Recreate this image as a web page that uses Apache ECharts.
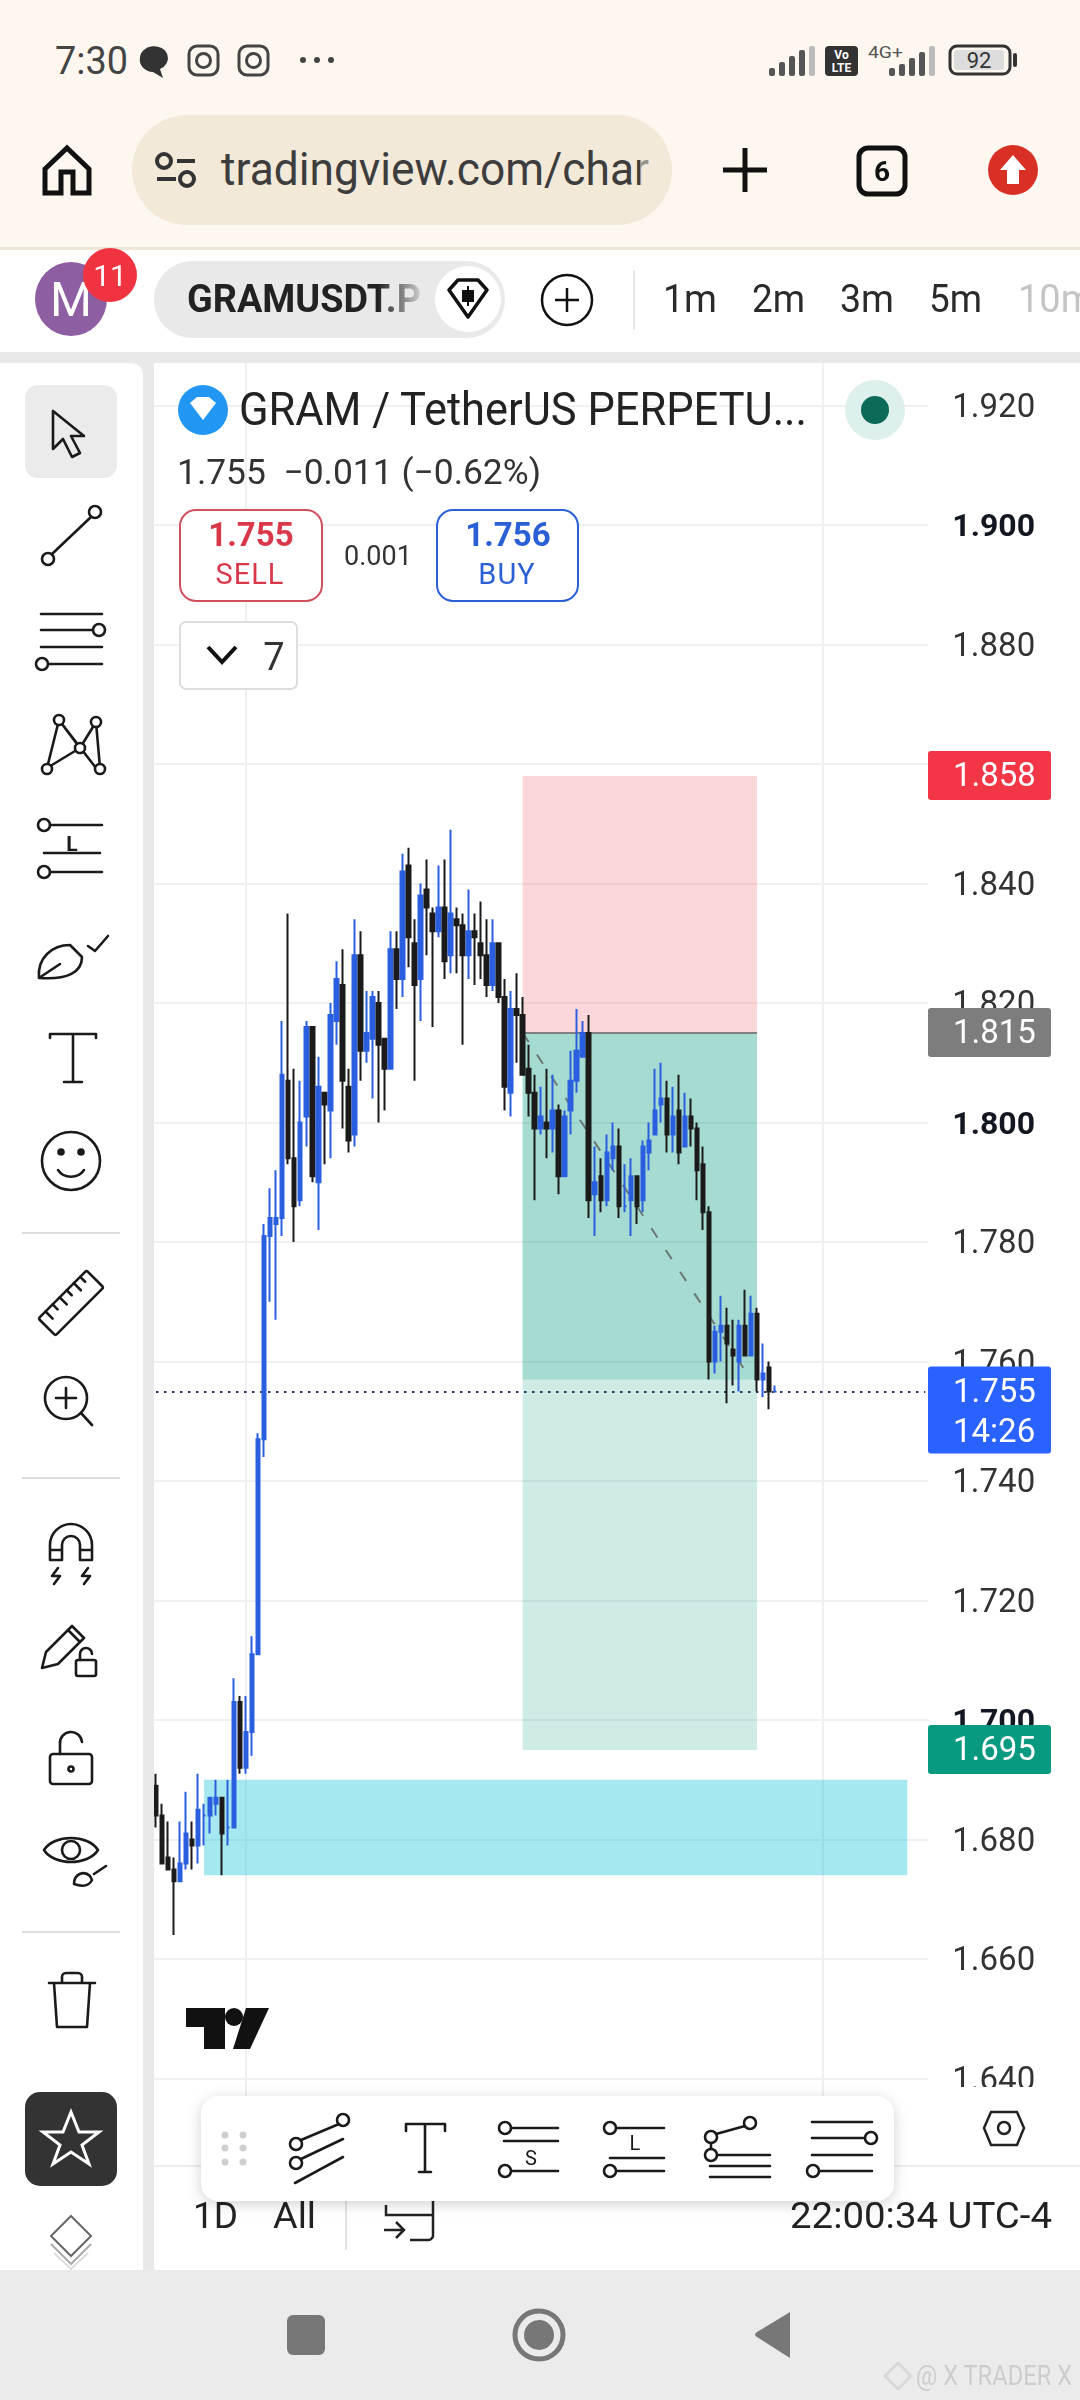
<!DOCTYPE html>
<html><head><meta charset="utf-8">
<style>
html,body{margin:0;padding:0;background:#fff;width:1080px;height:2400px;overflow:hidden}
#chart{position:absolute;left:0;top:0;width:1080px;height:2400px}
#ui{position:absolute;left:0;top:0;width:1080px;height:2400px;pointer-events:none;font-family:Roboto,sans-serif}
#ui .i{fill:none;stroke:#1a1a1a;stroke-width:2.6;stroke-linecap:round;stroke-linejoin:round}
</style>
<script src="https://cdn.jsdelivr.net/npm/echarts@6/dist/echarts.min.js"></script>
</head><body>
<div id="chart"></div>
<svg id="ui" width="1080" height="2400" viewBox="0 0 1080 2400" xmlns="http://www.w3.org/2000/svg">
<defs>
<linearGradient id="fadeR" x1="0" x2="1"><stop offset="0" stop-color="#e9e9e9" stop-opacity="0"/><stop offset="1" stop-color="#e9e9e9"/></linearGradient>
<filter id="sh" x="-5%" y="-20%" width="110%" height="150%"><feDropShadow dx="0" dy="3" stdDeviation="7" flood-color="#000" flood-opacity=".18"/></filter>
</defs>
<!-- page panels -->
<rect x="0" y="0" width="1080" height="250" fill="#fef7f0"/>
<rect x="0" y="247" width="1080" height="3" fill="#efe6d6"/>
<rect x="0" y="250" width="1080" height="102" fill="#fff"/>
<rect x="0" y="352" width="1080" height="11" fill="#e9e9e9"/>
<rect x="154" y="2165" width="926" height="105" fill="#fff"/>
<rect x="154" y="2165" width="926" height="2" fill="#eeeeee"/>
<rect x="927" y="2087" width="153" height="78" fill="#fff"/>
<rect x="0" y="363" width="154" height="1907" fill="#e9e9e9"/>
<path d="M0 363H131a12 12 0 0 1 12 12V2270H0Z" fill="#fff"/>
<rect x="0" y="2270" width="1080" height="130" fill="#ebebeb"/>

<!-- status bar -->
<text x="55" y="74" font-size="39" fill="#444" textLength="73" lengthAdjust="spacingAndGlyphs">7:30</text>
<path d="M140 58a14 12 0 1 1 20 11l3 9-10-6a14 12 0 0 1-13-14Z" fill="#333"/>
<g fill="none" stroke="#444" stroke-width="3"><rect x="189" y="46" width="29" height="29" rx="8"/><circle cx="203.500" cy="60.500" r="7"/><rect x="239" y="46" width="29" height="29" rx="8"/><circle cx="253.500" cy="60.500" r="7"/></g>
<g fill="#444"><circle cx="303" cy="60" r="3"/><circle cx="317" cy="60" r="3"/><circle cx="331" cy="60" r="3"/></g>
<g fill="#555"><rect x="769" y="68" width="6" height="8" rx="2"/><rect x="779" y="62" width="6" height="14" rx="2"/><rect x="789" y="56" width="6" height="20" rx="2"/><rect x="799" y="50" width="6" height="26" rx="2"/><rect x="809" y="46" width="6" height="30" rx="2" fill="#bbb"/></g>
<rect x="825" y="46" width="33" height="30" rx="4" fill="#333"/>
<text x="841.500" y="59" font-size="12" font-weight="700" fill="#fff" text-anchor="middle">Vo</text>
<text x="841.500" y="72" font-size="12" font-weight="700" fill="#fff" text-anchor="middle">LTE</text>
<text x="868" y="58" font-size="17" fill="#555" textLength="35" lengthAdjust="spacingAndGlyphs">4G+</text>
<g fill="#555"><rect x="889" y="68" width="6" height="8" rx="2"/><rect x="899" y="64" width="6" height="12" rx="2"/><rect x="909" y="58" width="6" height="18" rx="2"/><rect x="919" y="52" width="6" height="24" rx="2"/><rect x="929" y="46" width="6" height="30" rx="2" fill="#bbb"/></g>
<rect x="950" y="46" width="60" height="28" rx="7" fill="none" stroke="#333" stroke-width="3"/>
<rect x="954" y="50" width="50" height="20" rx="3" fill="#ddd"/>
<text x="979" y="68" font-size="22" fill="#333" text-anchor="middle">92</text>
<rect x="1013" y="53" width="4" height="14" rx="2" fill="#333"/>

<!-- browser bar -->
<path d="M45 193V169L67 148L89 169V193H73V172H61V193Z" fill="none" stroke="#111" stroke-width="5" stroke-linejoin="miter"/>
<rect x="132" y="115" width="540" height="110" rx="55" fill="#f3e9d9"/>
<g fill="none" stroke="#333" stroke-width="4"><circle cx="164" cy="161" r="7"/><path d="M177 161H195M157 179H176"/><circle cx="187" cy="179" r="7"/></g>
<text x="221" y="185" font-size="46" fill="#3d3d3d" textLength="428" lengthAdjust="spacingAndGlyphs">tradingview.com/char</text>
<rect x="640" y="130" width="14" height="80" fill="#f3e9d9" opacity=".5"/>
<path d="M745 148V192M723 170H767" stroke="#111" stroke-width="5"/>
<rect x="859" y="148" width="46" height="46" rx="9" fill="none" stroke="#111" stroke-width="5"/>
<text x="882" y="181" font-size="28" font-weight="700" fill="#111" text-anchor="middle">6</text>
<circle cx="1013" cy="170" r="25" fill="#d93025"/>
<path d="M1013 155L1026 170H1019V184H1007V170H1000Z" fill="#fff"/>

<!-- tab row -->
<ellipse cx="71" cy="299" rx="36" ry="37" fill="#8e5ea2"/>
<text x="71" y="316" font-size="48" fill="#fff" text-anchor="middle">M</text>
<circle cx="110" cy="275" r="27" fill="#ef3340"/>
<text x="110" y="286" font-size="30" fill="#fff" text-anchor="middle">11</text>
<rect x="154" y="261" width="351" height="77" rx="38" fill="#e9e9e9"/>
<text x="187" y="312" font-size="39" font-weight="700" fill="#222" textLength="234" lengthAdjust="spacingAndGlyphs">GRAMUSDT.P</text>
<rect x="378" y="265" width="50" height="68" fill="url(#fadeR)"/>
<circle cx="468" cy="299" r="33" fill="#fff"/>
<path d="M449 290L458 280H478L487 290L468 317Z" fill="none" stroke="#111" stroke-width="3.500" stroke-linejoin="round"/>
<path d="M468 286V306M463 291h10v10h-10z" fill="#111" stroke="#111" stroke-width="2"/>
<circle cx="567" cy="300" r="25" fill="none" stroke="#111" stroke-width="2.500"/>
<path d="M567 288V312M555 300H579" stroke="#111" stroke-width="2.500"/>
<rect x="633" y="270" width="2" height="60" fill="#e6e6e6"/>
<g font-size="38" fill="#2a2a2a">
<text x="663" y="312" textLength="54" lengthAdjust="spacingAndGlyphs">1m</text>
<text x="752" y="312" textLength="53" lengthAdjust="spacingAndGlyphs">2m</text>
<text x="840" y="312" textLength="54" lengthAdjust="spacingAndGlyphs">3m</text>
<text x="929" y="312" textLength="53" lengthAdjust="spacingAndGlyphs">5m</text>
<text x="1018" y="312" fill="#c4c4c4">10m</text>
</g>

<!-- legend -->
<circle cx="203" cy="410" r="25" fill="#2196f3"/>
<path d="M190 403L197 397H209L216 403L203 420Z" fill="#fff"/>
<text x="239" y="425" font-size="47" fill="#222" textLength="568" lengthAdjust="spacingAndGlyphs">GRAM / TetherUS PERPETU...</text>
<circle cx="875" cy="410" r="30" fill="#ddf0ec"/>
<circle cx="875" cy="410" r="14" fill="#0b6b58"/>
<text x="177" y="484" font-size="35" fill="#333" textLength="364" lengthAdjust="spacingAndGlyphs">1.755&#160;&#160;−0.011 (−0.62%)</text>
<rect x="180" y="510" width="142" height="91" rx="16" fill="#fff" stroke="#d0505e" stroke-width="2"/>
<text x="251" y="546" font-size="33" font-weight="700" fill="#d9384a" text-anchor="middle">1.755</text>
<text x="250" y="584" font-size="29" fill="#d9384a" text-anchor="middle" letter-spacing="1">SELL</text>
<text x="378" y="565" font-size="27" fill="#333" text-anchor="middle">0.001</text>
<rect x="437" y="510" width="141" height="91" rx="16" fill="#fff" stroke="#2a5fd6" stroke-width="2"/>
<text x="508" y="546" font-size="33" font-weight="700" fill="#2a5fd6" text-anchor="middle">1.756</text>
<text x="507" y="584" font-size="29" fill="#2a5fd6" text-anchor="middle" letter-spacing="1">BUY</text>
<rect x="180" y="622" width="117" height="67" rx="6" fill="#fff" stroke="#dddddd" stroke-width="2"/>
<path d="M208 647L222 662L236 647" fill="none" stroke="#111" stroke-width="4"/>
<text x="274" y="670" font-size="38" fill="#333" text-anchor="middle">7</text>

<!-- left toolbar -->
<rect x="25" y="385" width="92" height="93" rx="13" fill="#ebebeb"/>
<g class="i">
<path d="M53 411V449L63 439L72 457L80 453L71 436H84Z"/>
<circle cx="95" cy="512" r="6"/><circle cx="48" cy="559" r="6"/><path d="M91 517L52 554"/>
<path d="M41 614H102M41 630H93M41 647H102M49 664H102"/><circle cx="99" cy="630" r="6"/><circle cx="42" cy="664" r="6"/>
<path d="M47 768L59 720L80 748L96 722L100 768M59 720L96 768M47 768L80 748"/><circle cx="47" cy="769" r="5" fill="#fff"/><circle cx="59" cy="720" r="5" fill="#fff"/><circle cx="80" cy="748" r="5" fill="#fff"/><circle cx="96" cy="722" r="5" fill="#fff"/><circle cx="100" cy="769" r="5" fill="#fff"/>
<circle cx="44" cy="825" r="6"/><path d="M50 825H102M44 853H100M50 872H102"/><circle cx="44" cy="872" r="6"/>
<path d="M39 978C37 958 52 945 70 945L82 957C82 972 68 980 39 978ZM60 964L39 978"/><path d="M88 946L95 951L108 936"/>
<path d="M50 1038V1034H96V1038M73 1034V1082M64 1082H82"/>
<circle cx="71" cy="1161" r="29"/><circle cx="61" cy="1152" r="2.500" fill="#1a1a1a"/><circle cx="81" cy="1152" r="2.500" fill="#1a1a1a"/><path d="M58 1170C64 1179 78 1179 84 1170"/>
<g transform="rotate(-45 71 1303)"><rect x="37" y="1291" width="68" height="24" rx="2"/><path d="M47 1291V1301M57 1291V1298M67 1291V1301M77 1291V1298M87 1291V1301M96 1291V1298"/></g>
<circle cx="66" cy="1398" r="21"/><path d="M66 1388V1408M56 1398H76M81 1413L92 1425"/>
<path d="M50 1560V1545A21 21 0 0 1 92 1545V1560H80V1545A9 9 0 0 0 62 1545V1560ZM50 1550H62M80 1550H92"/><path d="M58 1568L52 1576H60L54 1584M88 1568L82 1576H90L84 1584"/>
<path d="M42 1668L46 1652L72 1626L84 1638L58 1664ZM68 1630L80 1642"/><rect x="76" y="1660" width="20" height="16" rx="2"/><path d="M80 1660V1654A6 6 0 0 1 92 1654"/>
<rect x="50" y="1754" width="42" height="30" rx="3"/><path d="M60 1754V1744A11 11 0 0 1 82 1742"/><circle cx="71" cy="1769" r="2.500"/>
<path d="M44 1850C54 1834 88 1834 98 1850C88 1866 54 1866 44 1850Z"/><circle cx="71" cy="1850" r="9"/><path d="M74 1884C74 1874 84 1870 90 1876L92 1880C88 1888 80 1886 74 1884ZM94 1874L106 1866"/>
<path d="M49 1983H95M62 1983V1977A4 4 0 0 1 66 1973H78A4 4 0 0 1 82 1977V1983M54 1983L57 2027H87L90 1983"/>
</g>
<text x="72" y="851" font-size="21" font-weight="700" fill="#1a1a1a" text-anchor="middle">L</text>
<rect x="22" y="1232" width="98" height="2" fill="#dcdcdc"/>
<rect x="22" y="1477" width="98" height="2" fill="#dcdcdc"/>
<rect x="22" y="1931" width="98" height="2" fill="#dcdcdc"/>
<rect x="25" y="2092" width="92" height="94" rx="15" fill="#333"/>
<path d="M71 2112L79 2132H99L82 2145L89 2164L71 2152L53 2164L60 2145L43 2132H63Z" fill="none" stroke="#fff" stroke-width="3" stroke-linejoin="miter"/>
<path d="M71 2216L91 2236L71 2256L51 2236Z" fill="none" stroke="#666" stroke-width="2"/>
<path d="M51 2244L71 2264L91 2244" fill="none" stroke="#aaa" stroke-width="2"/>
<path d="M54 2253L71 2269L88 2253" fill="none" stroke="#ddd" stroke-width="2"/>

<!-- tv logo -->
<path d="M186 2008H225V2049H204V2027H186Z" fill="#111"/>
<circle cx="234" cy="2017" r="9" fill="#111"/>
<path d="M246 2008H269L250 2049H233Z" fill="#111"/>

<!-- bottom axis -->
<text x="193" y="2228" font-size="36" fill="#222" textLength="45" lengthAdjust="spacingAndGlyphs">1D</text>
<text x="273" y="2228" font-size="36" fill="#222" textLength="43" lengthAdjust="spacingAndGlyphs">All</text>
<rect x="345" y="2190" width="2" height="60" fill="#e2e2e2"/>
<path d="M386 2205V2215H433M433 2200V2234A5 5 0 0 1 428 2240H410M384 2230H404M396 2222L404 2230L396 2238" fill="none" stroke="#222" stroke-width="2.500"/>
<text x="790" y="2228" font-size="36" fill="#222" textLength="262" lengthAdjust="spacingAndGlyphs">22:00:34 UTC-4</text>
<path d="M991 2112H1017L1024 2128L1017 2145H991L984 2128Z" fill="none" stroke="#222" stroke-width="2.500"/>
<circle cx="1004" cy="2128" r="6" fill="none" stroke="#222" stroke-width="2.500"/>

<!-- floating toolbar -->
<rect x="201" y="2096" width="693" height="105" rx="18" fill="#fff" filter="url(#sh)"/>
<g fill="#cfcfcf"><circle cx="225" cy="2135" r="3.500"/><circle cx="243" cy="2135" r="3.500"/><circle cx="225" cy="2148" r="3.500"/><circle cx="243" cy="2148" r="3.500"/><circle cx="225" cy="2162" r="3.500"/><circle cx="243" cy="2162" r="3.500"/></g>
<g class="i">
<circle cx="343" cy="2120" r="6"/><circle cx="296" cy="2144" r="6"/><path d="M339 2124L301 2140"/>
<circle cx="296" cy="2163" r="6"/><path d="M301 2159L343 2139M295 2183L343 2157"/>
<path d="M406 2131V2124H445V2131M425 2124V2172M419 2172H431"/>
<circle cx="505" cy="2128" r="6"/><path d="M512 2128H558M504 2141H558"/><circle cx="505" cy="2171" r="6"/><path d="M512 2171H558"/>
<circle cx="610" cy="2128" r="6"/><path d="M617 2128H664M610 2158H664"/><circle cx="610" cy="2171" r="6"/><path d="M617 2171H664"/>
<circle cx="750" cy="2123" r="6"/><circle cx="711" cy="2137" r="6"/><path d="M745 2126L716 2134M711 2143V2149"/><circle cx="711" cy="2155" r="6"/><path d="M717 2155H770M710 2166H770M710 2177H770"/>
<path d="M812 2122H872M812 2138H865M812 2155H872M820 2171H872"/><circle cx="871" cy="2138" r="6"/><circle cx="813" cy="2171" r="6"/>
</g>
<text x="531" y="2165" font-size="20" fill="#1a1a1a" text-anchor="middle">S</text>
<text x="635" y="2150" font-size="20" fill="#1a1a1a" text-anchor="middle">L</text>

<!-- nav bar -->
<rect x="287" y="2315" width="38" height="40" rx="6" fill="#777"/>
<circle cx="539" cy="2335" r="24" fill="none" stroke="#777" stroke-width="5"/>
<circle cx="539" cy="2335" r="15" fill="#777"/>
<path d="M790 2312V2358L757 2337Q753 2335 757 2332Z" fill="#777"/>
<path d="M898 2363L911 2376L898 2389L885 2376Z" fill="none" stroke="#d8d8d8" stroke-width="3"/>
<text x="916" y="2385" font-size="27" fill="#cdcdcd" textLength="156" lengthAdjust="spacingAndGlyphs">@ X TRADER X</text>
</svg>
<script>
// one candle per array slot, oldest first, prices
var opens = [1.689,1.684,1.677,1.675,1.673,1.676,1.680,1.679,1.684,1.684,1.686,1.687,1.682,1.682,1.703,1.692,1.698,1.711,1.747,1.781,
1.783,1.784,1.807,1.794,1.787,1.801,1.816,1.790,1.805,1.802,1.817,1.823,1.806,1.798,1.828,1.812,1.814,1.820,1.814,1.809,
1.829,1.824,1.843,1.830,1.824,1.839,1.835,1.832,1.836,1.828,1.834,1.833,1.828,1.832,1.830,1.828,1.823,1.830,1.821,1.805,
1.819,1.818,1.809,1.805,1.799,1.800,1.799,1.802,1.791,1.802,1.807,1.811,1.815,1.788,1.791,1.787,1.794,1.796,1.786,1.787,
1.791,1.787,1.795,1.798,1.803,1.804,1.798,1.802,1.796,1.801,1.799,1.793,1.785,1.760,1.765,1.766,1.762,1.760,1.766,1.761,
1.768,1.757,1.759,1.755];
var closes = [1.684,1.676,1.675,1.673,1.676,1.681,1.679,1.685,1.684,1.687,1.687,1.681,1.682,1.703,1.692,1.698,1.711,1.747,1.781,1.784,
1.784,1.808,1.794,1.786,1.800,1.816,1.791,1.806,1.803,1.818,1.824,1.807,1.797,1.828,1.812,1.815,1.821,1.813,1.809,1.829,
1.824,1.842,1.831,1.823,1.838,1.836,1.832,1.836,1.827,1.835,1.833,1.828,1.832,1.831,1.828,1.823,1.830,1.821,1.806,1.819,
1.818,1.808,1.805,1.799,1.801,1.799,1.802,1.791,1.801,1.807,1.812,1.815,1.787,1.790,1.787,1.795,1.796,1.786,1.786,1.791,
1.786,1.796,1.797,1.802,1.804,1.798,1.801,1.795,1.801,1.799,1.792,1.785,1.760,1.765,1.766,1.763,1.761,1.766,1.761,1.768,
1.757,1.758,1.755,1.755];
var lows = [1.682,1.676,1.675,1.664,1.673,1.675,1.675,1.676,1.679,1.681,1.684,1.674,1.679,1.682,1.691,1.691,1.694,1.711,1.744,1.770,
1.767,1.781,1.793,1.780,1.786,1.796,1.790,1.782,1.793,1.794,1.813,1.799,1.795,1.796,1.807,1.810,1.804,1.800,1.802,1.809,
1.819,1.821,1.826,1.807,1.817,1.828,1.816,1.831,1.824,1.825,1.825,1.813,1.824,1.823,1.824,1.821,1.822,1.820,1.802,1.801,
1.810,1.808,1.801,1.787,1.798,1.794,1.795,1.788,1.791,1.798,1.805,1.811,1.784,1.781,1.785,1.786,1.792,1.784,1.785,1.781,
1.783,1.785,1.792,1.798,1.800,1.795,1.795,1.793,1.796,1.796,1.787,1.782,1.757,1.758,1.760,1.753,1.756,1.755,1.761,1.761,
1.755,1.754,1.752,1.755];
var highs = [1.691,1.686,1.683,1.677,1.683,1.688,1.683,1.691,1.686,1.687,1.690,1.687,1.690,1.707,1.704,1.704,1.714,1.748,1.783,1.789,
1.792,1.817,1.835,1.809,1.807,1.817,1.816,1.811,1.805,1.820,1.827,1.829,1.809,1.834,1.832,1.822,1.822,1.822,1.814,1.832,
1.832,1.845,1.846,1.834,1.840,1.844,1.836,1.843,1.844,1.849,1.836,1.835,1.839,1.835,1.837,1.834,1.834,1.830,1.824,1.822,
1.825,1.821,1.813,1.808,1.806,1.809,1.808,1.803,1.802,1.812,1.819,1.817,1.818,1.796,1.794,1.798,1.800,1.799,1.793,1.794,
1.791,1.797,1.800,1.809,1.810,1.807,1.806,1.808,1.805,1.804,1.800,1.796,1.786,1.766,1.771,1.769,1.767,1.767,1.772,1.771,
1.769,1.763,1.760,1.756];
var priceTicks = [1.62, 1.94];
var tickStep = 0.02;
var boldTicks = ['1.900','1.800','1.700'];
var tagPrices = [1.858, 1.815, 1.755, 1.695];
var tagTimer = '14:26';
var riskLevels = {stop: 1.858, entry: 1.815, target: 1.695, last: 1.757};
var zoneLevels = {high: 1.690, low: 1.674};

var slotCount = 129;
var categories = [];
for (var c = 0; c < slotCount; c++) categories.push(String(c));
var candles = opens.map(function(o, k){ return [o, closes[k], lows[k], highs[k]]; });

var UP = '#2a5fe0', DOWN = '#1b1b1b';
var chart = echarts.init(document.getElementById('chart'));
chart.setOption({
  animation: false,
  backgroundColor: '#fff',
  grid: {left: 153, top: 286, width: 775.3, height: 1912},
  xAxis: {type: 'category', data: categories, boundaryGap: true,
    axisLine: {show: false}, axisTick: {show: false}, axisLabel: {show: false}, splitLine: {show: false}},
  yAxis: {type: 'value', position: 'right', min: priceTicks[0], max: priceTicks[1], interval: tickStep, scale: true,
    axisLine: {show: false}, axisTick: {show: false},
    splitLine: {lineStyle: {color: '#eff0f2', width: 2}},
    axisLabel: {margin: 24, align: 'left',
      formatter: function(v){ var s = v.toFixed(3); return boldTicks.indexOf(s) >= 0 ? '{b|' + s + '}' : '{r|' + s + '}'; },
      rich: {r: {fontFamily: 'Roboto', fontSize: 33, color: '#333', padding: [6, 0, 0, 0]},
             b: {fontFamily: 'Roboto', fontSize: 32, fontWeight: 700, color: '#131722', padding: [6, 0, 0, 0]}}}},
  series: [
    {type: 'line', data: [], z: 0, silent: true, symbol: 'none',
      markLine: {silent: true, symbol: 'none', z: 0, animation: false, label: {show: false},
        lineStyle: {color: '#eff0f2', width: 2, type: 'solid'},
        data: [{xAxis: '15'}, {xAxis: '111'}]}},
    {type: 'line', data: [], z: 1, silent: true, symbol: 'none',
      markArea: {silent: true, z: 1, animation: false, label: {show: false}, data: [
        [{coord: ['61', riskLevels.stop], itemStyle: {color: 'rgba(242,54,69,0.2)'}}, {coord: ['100', riskLevels.entry]}],
        [{coord: ['61', riskLevels.entry], itemStyle: {color: 'rgba(8,153,129,0.2)'}}, {coord: ['100', riskLevels.target]}],
        [{coord: ['61', riskLevels.entry], itemStyle: {color: 'rgba(8,153,129,0.2)'}}, {coord: ['100', riskLevels.last]}],
        [{coord: ['8', zoneLevels.high], itemStyle: {color: 'rgba(0,188,212,0.35)'}}, {coord: ['125', zoneLevels.low]}]
      ]}},
    {type: 'line', data: [], z: 2, silent: true, symbol: 'none',
      markLine: {silent: true, symbol: 'none', z: 2, animation: false, label: {show: false}, data: [
        [{coord: ['61', riskLevels.entry], lineStyle: {color: '#808080', width: 2, type: 'solid'}}, {coord: ['100', riskLevels.entry]}],
        [{coord: ['61', riskLevels.entry], lineStyle: {color: 'rgba(85,85,85,0.75)', width: 2, type: [11, 15]}}, {coord: ['99', riskLevels.last]}],
        [{coord: ['0', tagPrices[2]], lineStyle: {color: '#2b3a67', width: 2, type: [2.5, 5.5]}}, {coord: ['128', tagPrices[2]]}]
      ]}},
    {type: 'candlestick', data: candles, z: 5, barWidth: 4, large: false, silent: true,
      itemStyle: {color: UP, color0: DOWN, borderColor: UP, borderColor0: DOWN, borderColorDoji: UP, borderWidth: 2}}
  ]
});

var tagColors = ['#f23645', '#7d7d7d', '#2962ff', '#089981'];
var tags = [];
tagPrices.forEach(function(p, k){
  var y = chart.convertToPixel({yAxisIndex: 0}, p);
  var tall = k === 2;
  tags.push({type: 'rect', z: 100, silent: true,
    shape: {x: 928, y: y - 25, width: 123, height: tall ? 87 : 49, r: 3},
    style: {fill: tagColors[k]}});
  tags.push({type: 'text', z: 101, silent: true, x: 953, y: y + 2,
    style: {text: p.toFixed(3), fill: '#fff', font: '33px Roboto', verticalAlign: 'middle', align: 'left'}});
  if (tall) tags.push({type: 'text', z: 101, silent: true, x: 953, y: y + 42,
    style: {text: tagTimer, fill: '#fff', font: '33px Roboto', verticalAlign: 'middle', align: 'left'}});
});
chart.setOption({graphic: tags});
</script>
</body></html>
